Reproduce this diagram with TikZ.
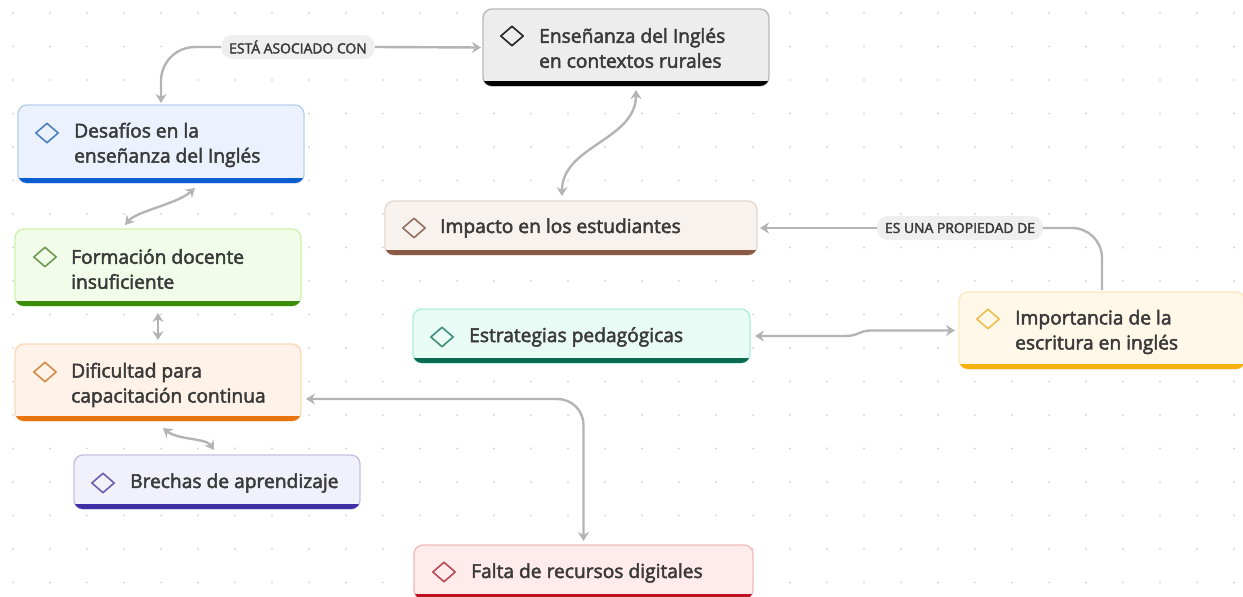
\documentclass[tikz,border=0pt]{standalone}
\usepackage{fontspec}
\setmainfont[FakeBold=2.5]{Open Sans}
\usetikzlibrary{calc, arrows.meta, shapes.geometric, positioning}
\definecolor{inkText}{HTML}{3A3A3A}
\definecolor{linkGray}{HTML}{B4B4B4}
\definecolor{dotGray}{HTML}{D8D8D8}
\definecolor{pillGray}{HTML}{EFEFEF}
\definecolor{grayFill}{HTML}{EDEDED}\definecolor{grayLine}{HTML}{B8B8B8}\definecolor{grayBar}{HTML}{000000}\definecolor{grayMark}{HTML}{222222}
\definecolor{blueFill}{HTML}{EBF2FD}\definecolor{blueLine}{HTML}{B9CFF0}\definecolor{blueBar}{HTML}{0A5FD0}\definecolor{blueMark}{HTML}{4A80BE}
\definecolor{greenFill}{HTML}{F1FDE9}\definecolor{greenLine}{HTML}{CDF3AE}\definecolor{greenBar}{HTML}{3D8B0A}\definecolor{greenMark}{HTML}{6E9A55}
\definecolor{orangeFill}{HTML}{FFF3E9}\definecolor{orangeLine}{HTML}{F9DABA}\definecolor{orangeBar}{HTML}{E8740C}\definecolor{orangeMark}{HTML}{D98A48}
\definecolor{violetFill}{HTML}{F1F1FB}\definecolor{violetLine}{HTML}{C4C2E2}\definecolor{violetBar}{HTML}{4030A8}\definecolor{violetMark}{HTML}{6A5FB0}
\definecolor{brownFill}{HTML}{F7F2EE}\definecolor{brownLine}{HTML}{E4D6CE}\definecolor{brownBar}{HTML}{8A5A44}\definecolor{brownMark}{HTML}{96705E}
\definecolor{tealFill}{HTML}{E9FBF5}\definecolor{tealLine}{HTML}{ACF0DA}\definecolor{tealBar}{HTML}{0A6B50}\definecolor{tealMark}{HTML}{3F8F7C}
\definecolor{amberFill}{HTML}{FFF8E9}\definecolor{amberLine}{HTML}{FCE9BC}\definecolor{amberBar}{HTML}{F5B010}\definecolor{amberMark}{HTML}{EDBE50}
\definecolor{redFill}{HTML}{FFEBEB}\definecolor{redLine}{HTML}{F0BCBC}\definecolor{redBar}{HTML}{C01020}\definecolor{redMark}{HTML}{B84A55}
\tikzset{
	x=1pt,
	y=-1pt,
	>={Stealth[length=9pt,width=11pt]},
	card/.style={
		draw=#1Line,
		fill=#1Fill,
		rectangle,
		rounded corners=9pt,
		line width=1.4pt,
		inner sep=0pt,
		outer sep=0pt
	},
	cardtext/.style={
		anchor=west,
		align=left,
		text=inkText,
		inner sep=0pt,
		font=\fontsize{19.2pt}{25pt}\selectfont
	},
	mark/.style={
		draw=#1Mark,
		diamond,
		line join=round,
		line width=1.6pt,
		minimum width=23pt,
		minimum height=20pt,
		inner sep=0pt
	},
	pill/.style={
		fill=pillGray,
		rounded corners=11pt,
		text=inkText,
		minimum height=24pt,
		inner xsep=8pt,
		inner ysep=0pt,
		font=\fontsize{13.9pt}{13.9pt}\selectfont
	},
	link/.style={
		draw=linkGray,
		line width=2.4pt
	}
}
\begin{document}
\begin{tikzpicture}
	\useasboundingbox (0,0) rectangle (1243,597);

	\foreach \i in {0,...,33} {
		\foreach \j in {0,...,17} {
			\fill[dotGray] ({13+37*\i},{13+33.5*\j}) circle (1.1pt);
		}
	}

	\node[card=gray, minimum width=286pt, minimum height=77pt] (ens) at (626,47.5) {};
	\node[card=blue, minimum width=286pt, minimum height=78pt] (des) at (161,144) {};
	\node[card=green, minimum width=286pt, minimum height=77pt] (for) at (158,267.5) {};
	\node[card=orange, minimum width=286pt, minimum height=77pt] (dif) at (158,382.5) {};
	\node[card=violet, minimum width=286pt, minimum height=54pt] (bre) at (217,482) {};
	\node[card=brown, minimum width=372pt, minimum height=54pt] (imp) at (571,228) {};
	\node[card=teal, minimum width=337pt, minimum height=54pt] (est) at (581.5,336) {};
	\node[card=amber, minimum width=286pt, minimum height=77pt] (esc) at (1102,330.5) {};
	\node[card=red, minimum width=339pt, minimum height=54pt] (fal) at (583.5,572) {};

	\foreach \n/\c in {ens/gray,des/blue,for/green,dif/orange,bre/violet,imp/brown,est/teal,esc/amber,fal/red} {
		\begin{scope}
			\clip[rounded corners=9pt] (\n.south west) rectangle (\n.north east);
			\fill[\c Bar] ([yshift=5pt]\n.south west) rectangle (\n.south east);
		\end{scope}
	}

	\node[mark=gray] (ensMark) at (512,36) {};
	\node[cardtext] (ensText) at (539,48) {Enseñanza del Inglés\\en contextos rurales};
	\node[mark=blue] (desMark) at (47,133) {};
	\node[cardtext] (desText) at (74,145) {Desafíos en la\\enseñanza del Inglés};
	\node[mark=green] (forMark) at (45,257) {};
	\node[cardtext] (forText) at (71,269) {Formación docente\\insuficiente};
	\node[mark=orange] (difMark) at (45,372) {};
	\node[cardtext] (difText) at (71,385) {Dificultad para\\capacitación continua};
	\node[mark=violet] (breMark) at (103,483) {};
	\node[cardtext] (breText) at (130,483) {Brechas de aprendizaje};
	\node[mark=brown] (impMark) at (414,228) {};
	\node[cardtext] (impText) at (440,228) {Impacto en los estudiantes};
	\node[mark=teal] (estMark) at (442,337) {};
	\node[cardtext] (estText) at (469,337) {Estrategias pedagógicas};
	\node[mark=amber] (escMark) at (988,319) {};
	\node[cardtext] (escText) at (1015,332) {Importancia de la\\escritura en inglés};
	\node[mark=red] (falMark) at (444,572) {};
	\node[cardtext] (falText) at (471,573) {Falta de recursos digitales};

	\node[pill] (asoc) at (298,47) {ESTÁ ASOCIADO CON};
	\node[pill] (prop) at (960,228) {ES UNA PROPIEDAD DE};

	\draw[link, ->, rounded corners=34pt] (asoc.west) -| ([yshift=2pt]des.north);
	\draw[link, ->] (asoc.east) to ([xshift=-2pt]ens.west);
	\draw[link, <->] ([xshift=-9pt,yshift=5pt]imp.north) .. controls +(0,-50) and +(0,50) .. ([xshift=10pt,yshift=-4pt]ens.south);
	\draw[link, <-] ([xshift=3pt]imp.east) to (prop.west);
	\draw[link, rounded corners=30pt] (prop.east) -| ([yshift=2pt]esc.north);
	\draw[link, <->] ([xshift=5pt]est.east) -- ++(90,0) .. controls +(14,0) and +(-12,0) .. ++(26,-5.5) -- ([xshift=-4pt]esc.west);
	\draw[link, <->] ([xshift=34pt,yshift=-5pt]des.south) .. controls +(-18,16) and +(12,-14) .. ([xshift=-33pt,yshift=4pt]for.north);
	\draw[link, <->] ([yshift=-7pt]for.south) to ([yshift=4pt]dif.north);
	\draw[link, <->] ([xshift=5pt,yshift=-7pt]dif.south) .. controls +(15,12) and +(-8,-12) .. ([xshift=-3pt,yshift=5pt]bre.north);
	\draw[link, <->, rounded corners=26pt] ([xshift=5pt,yshift=-16.5pt]dif.east) -| ([yshift=4pt]fal.north);
\end{tikzpicture}
\end{document}
